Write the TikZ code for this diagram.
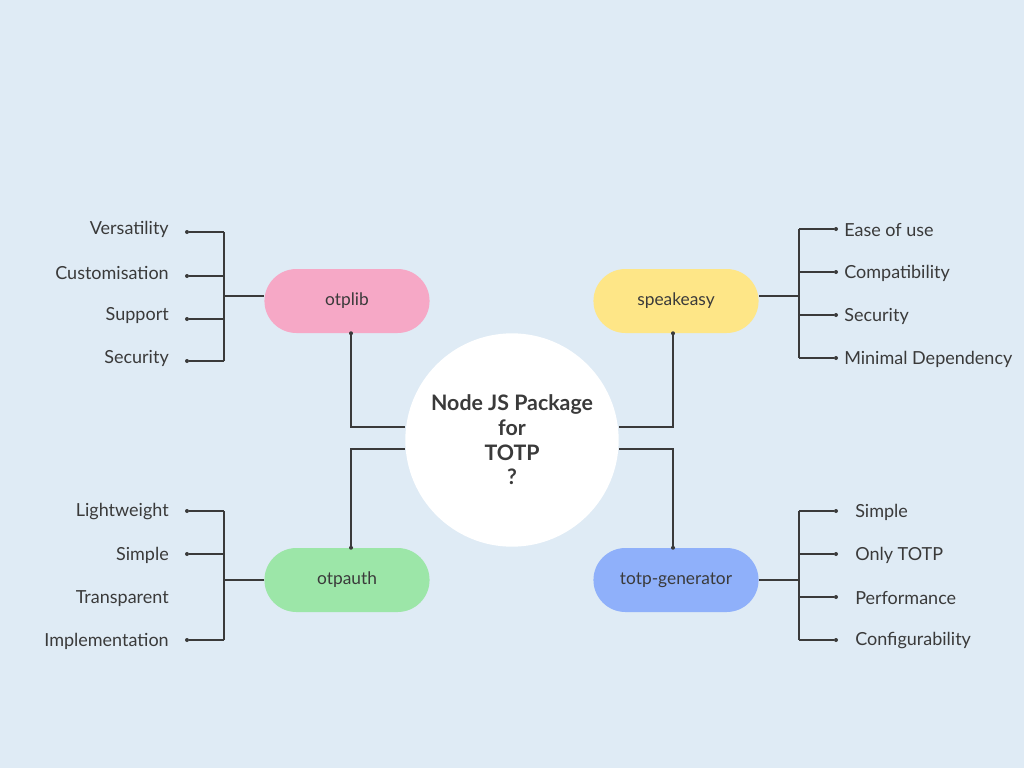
\documentclass[tikz,border=0pt]{standalone}
\usepackage{fontspec}
\setmainfont{Lato}
\usetikzlibrary{shapes.misc}
\definecolor{bgc}{HTML}{DFEBF5}
\definecolor{inkc}{HTML}{3A3A3A}
\definecolor{pinkc}{HTML}{F6A8C6}
\definecolor{yelc}{HTML}{FEE687}
\definecolor{grnc}{HTML}{9CE6A8}
\definecolor{bluc}{HTML}{8FB0FA}
\begin{document}
\begin{tikzpicture}[x=0.75pt,y=-0.75pt,
    pill/.style={rounded rectangle, minimum width=130.5pt, minimum height=48pt, font=\fontsize{13}{15}\selectfont, text=inkc},
    leaf/.style={font=\fontsize{13.5}{16}\selectfont, text=inkc, inner sep=0pt},
    wire/.style={draw=inkc, line width=0.8pt},
    dot/.style={circle, fill=inkc, inner sep=0pt, minimum size=3pt},
    ]
% background
\fill[bgc] (0,0) rectangle (1024,768);
\useasboundingbox (0,0) rectangle (1024,768);
% hub and branches
\node[circle, fill=white, minimum size=160pt, align=center, font=\bfseries\fontsize{16}{18.5}\selectfont, text=inkc] (hub) at (512,440) {Node JS Package\\for\\TOTP\\?};
\node[pill, fill=pinkc] (otplib) at (347,301) {otplib};
\node[pill, fill=yelc] (speakeasy) at (676,301) {speakeasy};
\node[pill, fill=grnc] (otpauth) at (347,580) {otpauth};
\node[pill, fill=bluc] (totpgen) at (676,580) {totp-generator};
% hub connectors
\draw[wire] (hub.west |- 0,427) -| (otplib.south -| 351,0) node[dot]{};
\draw[wire] (hub.west |- 0,449) -| (otpauth.north -| 351,0) node[dot]{};
\draw[wire] (hub.east |- 0,427) -| (speakeasy.south -| 673,0) node[dot]{};
\draw[wire] (hub.east |- 0,449) -| (totpgen.north -| 673,0) node[dot]{};
% otplib leaves
\coordinate (lj) at (224,296);
\draw[wire] (otplib.west |- lj) -- (lj);
\draw[wire] (224,232) -- (224,361);
\foreach \t/\y in {Versatility/232, Customisation/276, Support/319, Security/361}{
  \node[dot] (d\y) at (187,\y) {};
  \draw[wire] (224,\y) -- (d\y);
  \node[leaf, anchor=east] at (169,\y-3) {\t};
}
% otpauth leaves
\coordinate (aj) at (224,580);
\draw[wire] (otpauth.west |- aj) -- (aj);
\draw[wire] (224,511) -- (224,640);
\foreach \t/\y in {Lightweight/511, Simple/554, Implementation/640}{
  \node[dot] (e\y) at (187,\y) {};
  \draw[wire] (224,\y) -- (e\y);
  \node[leaf, anchor=east] at (169,\y+1) {\t};
}
\node[leaf, anchor=east] at (169,599) {Transparent};
% speakeasy leaves
\coordinate (sj) at (799,296);
\draw[wire] (speakeasy.east |- sj) -- (sj);
\draw[wire] (799,229) -- (799,358);
\foreach \t/\y in {Ease of use/229, Compatibility/272, Security/315, Minimal Dependency/358}{
  \node[dot] (f\y) at (836,\y) {};
  \draw[wire] (799,\y) -- (f\y);
  \node[leaf, anchor=west] at (844,\y+1) {\t};
}
% totp-generator leaves
\coordinate (tj) at (799,580);
\draw[wire] (totpgen.east |- tj) -- (tj);
\draw[wire] (799,511) -- (799,640);
\foreach \t/\y in {Simple/511, Only TOTP/554, Performance/597, Configurability/640}{
  \node[dot] (g\y) at (836,\y) {};
  \draw[wire] (799,\y) -- (g\y);
  \node[leaf, anchor=west] at (855,\y+1) {\t};
}
\end{tikzpicture}
\end{document}
